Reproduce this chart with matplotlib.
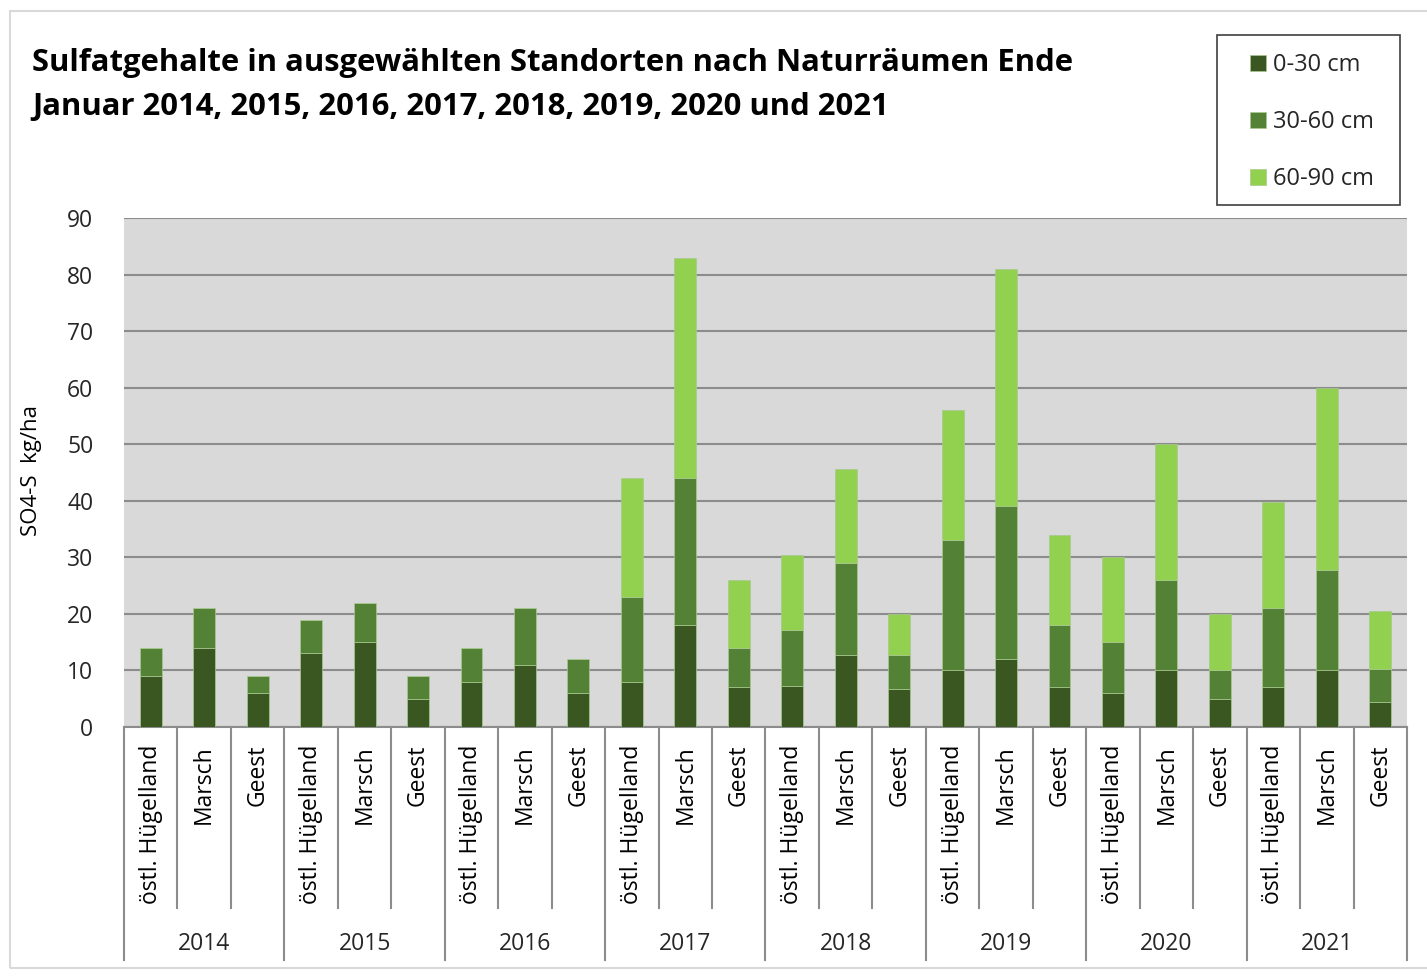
import matplotlib
matplotlib.use('Agg')
import matplotlib.pyplot as plt
import matplotlib.patches as patches
import numpy as np

plt.rcParams['font.family'] = ['Open Sans', 'DejaVu Sans']

# Daten (SO4-S kg/ha je Tiefe)
jahre = ['2014', '2015', '2016', '2017', '2018', '2019', '2020', '2021']
standorte = ['östl. Hügelland', 'Marsch', 'Geest']
tiefe_0_30 = [9, 14, 6, 13, 15, 5, 8, 11, 6, 8, 18, 7,
              7.3, 12.8, 6.7, 10, 12, 7, 6, 10, 5, 7, 10, 4.4]
tiefe_30_60 = [5, 7, 3, 6, 7, 4, 6, 10, 6, 15, 26, 7,
               9.8, 16.2, 6.1, 23, 27, 11, 9, 16, 5, 14, 17.7, 5.9]
tiefe_60_90 = [0, 0, 0, 0, 0, 0, 0, 0, 0, 21, 39, 12,
               13.3, 16.6, 7.2, 23, 42, 16, 15, 24, 10, 18.7, 32.3, 10.2]
legende = ['0-30 cm', '30-60 cm', '60-90 cm']
farben = ['#3a5722', '#538135', '#92d050']

W, H = 1427, 976
fig = plt.figure(figsize=(W / 100, H / 100), dpi=100)

# Rahmen des Diagrammbereichs
fig.patches.append(patches.Rectangle((10 / W, 1 - 968 / H), (W - 8) / W, 957 / H,
                                     transform=fig.transFigure, fill=False,
                                     edgecolor='#d9d9d9', linewidth=1.5))
# Rahmen der Legende
fig.patches.append(patches.Rectangle((1217 / W, 1 - 205 / H), (1400 - 1217) / W, 170 / H,
                                     transform=fig.transFigure, fill=False,
                                     edgecolor='#404040', linewidth=1.2))

ax = fig.add_axes([124 / W, 1 - 727 / H, (1407 - 124) / W, (727 - 218) / H])
ax.set_facecolor('#d9d9d9')

n = len(jahre) * len(standorte)
x = np.arange(n)
unten = np.zeros(n)
for werte, farbe, name in zip([tiefe_0_30, tiefe_30_60, tiefe_60_90], farben, legende):
    ax.bar(x, werte, width=0.41, bottom=unten, color=farbe, edgecolor='#a8c890',
           linewidth=0.5, label=name, zorder=3)
    unten = unten + np.array(werte)

ax.set_xlim(-0.5, n - 0.5)
ax.set_ylim(0, 90)
ax.set_yticks(range(0, 91, 10))
ax.yaxis.grid(True, color='#8c8c8c', linewidth=1.5, zorder=1)
ax.tick_params(axis='y', length=0, labelsize=16.5, colors='#262626', pad=22)
for s in ['top', 'right', 'left']:
    ax.spines[s].set_visible(False)
ax.spines['bottom'].set_color('#8c8c8c')
ax.spines['bottom'].set_linewidth(1.5)

# Kategorienachse mit zwei Ebenen
ax.set_xticks(x)
ax.set_xticklabels(standorte * len(jahre), rotation=90, fontsize=16.5, color='#000000')
ax.tick_params(axis='x', length=0, pad=13)

h = 727 - 218
for i in range(n + 1):
    tief = 960 if i % 3 == 0 else 908
    ax.plot([i - 0.5, i - 0.5], [0, -(tief - 727) / h], transform=ax.get_xaxis_transform(),
            color='#8c8c8c', linewidth=1.5, clip_on=False)
for j, jahr in enumerate(jahre):
    ax.text(3 * j + 1, -(944 - 727) / h, jahr, transform=ax.get_xaxis_transform(),
            ha='center', va='center', fontsize=16.5, color='#262626')

fig.text(31 / W, 1 - 471 / H, 'SO4-S  kg/ha', rotation=90, ha='center', va='center',
         fontsize=16, color='#000000')

fig.text(32 / W, 1 - 63 / H, 'Sulfatgehalte in ausgewählten Standorten nach Naturräumen Ende',
         fontsize=22.3, fontweight='bold', va='center', color='#000000')
fig.text(32 / W, 1 - 107 / H, 'Januar 2014, 2015, 2016, 2017, 2018, 2019, 2020 und 2021',
         fontsize=22.3, fontweight='bold', va='center', color='#000000')

leg = ax.legend(loc='center', bbox_to_anchor=(1312 / W, 1 - 122 / H),
                bbox_transform=fig.transFigure, fontsize=17, frameon=False,
                handlelength=0.65, handleheight=0.65, handletextpad=0.3, labelspacing=1.4,
                borderpad=0, borderaxespad=0)
for t in leg.get_texts():
    t.set_color('#262626')

fig.savefig('out.png', dpi=100)
